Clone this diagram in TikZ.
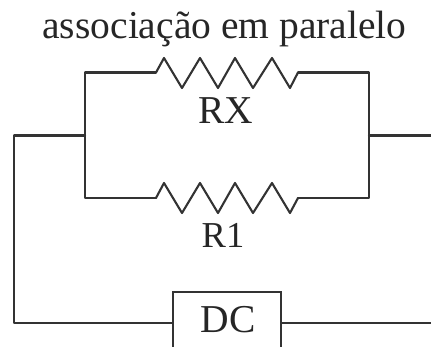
\documentclass[tikz,border=0pt]{standalone}
\usepackage{fontspec}
\setmainfont{Liberation Serif}
\definecolor{wire}{gray}{0.2}
\definecolor{ink}{gray}{0.15}
\tikzset{
  wirepath/.style={draw=wire,line width=2.1pt,line join=round,line cap=round},
  lab/.style={text=ink,font=\fontsize{39.5}{40}\selectfont,anchor=base,inner sep=0pt},
  dcbox/.style={draw=wire,line width=2.1pt,fill=white,minimum width=108pt,minimum height=62pt,inner sep=0pt}
}
\begin{document}
\begin{tikzpicture}[x=1pt,y=-1pt]
\path[use as bounding box,clip] (0,0) rectangle (431,347);
\fill[white] (0,0) rectangle (431,347);
\coordinate (tl) at (85,72.5);
\coordinate (tr) at (369,72.5);
\coordinate (bl) at (85,198);
\coordinate (br) at (369,198);
\coordinate (jl) at (85,135.5);
\coordinate (jr) at (369,135.5);
\coordinate (ol) at (14,135.5);
\coordinate (olb) at (14,323);
\coordinate (er) at (431,135.5);
\coordinate (erb) at (431,323);
\coordinate (rxa) at (156,72.5);
\coordinate (rxb) at (298,72.5);
\coordinate (r1a) at (156,198);
\coordinate (r1b) at (298,198);
\node[dcbox] (dc) at (227,323) {};
\node[lab] (title) at (224.5,39) {associação em paralelo};
\node[lab] (rx) at (226,124) {RX};
\node[lab,font=\fontsize{36.5}{37}\selectfont] (r1) at (223,248) {R1};
\node[lab] (dct) at (228,333) {DC};
\draw[wirepath] (rxa) -- (tl) -- (bl) -- (r1a);
\draw[wirepath] (rxb) -- (tr) -- (br) -- (r1b);
\draw[wirepath] (rxa) -- (164,58) -- (182,88) -- (200,58) -- (218,88) -- (235,58) -- (253,88) -- (272,58) -- (290,88) -- (rxb);
\draw[wirepath] (r1a) -- (164,183) -- (182,213) -- (200,183) -- (218,213) -- (235,183) -- (253,213) -- (272,183) -- (290,213) -- (r1b);
\draw[wirepath] (jl) -- (ol) -- (olb) -- (dc.west |- olb);
\draw[wirepath] (jr) -- (er);
\draw[wirepath] (dc.east |- erb) -- (erb);
\end{tikzpicture}
\end{document}
